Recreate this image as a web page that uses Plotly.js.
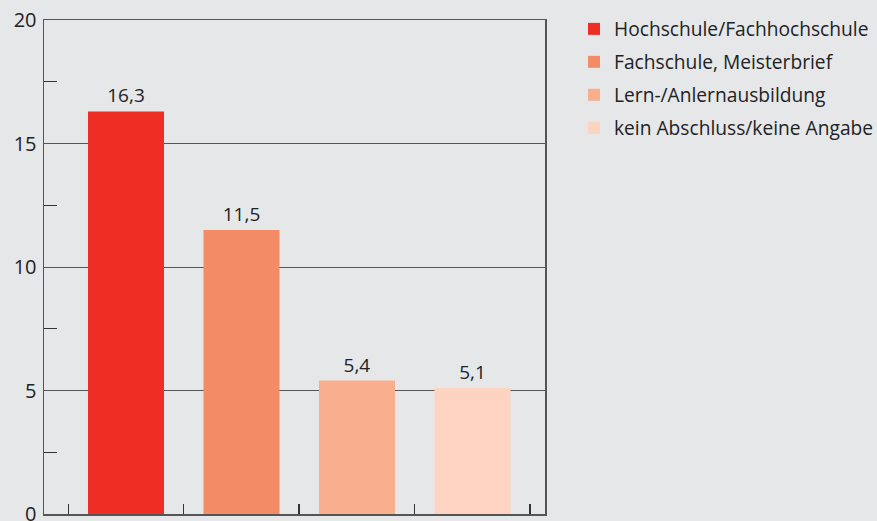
<!DOCTYPE html>
<html>
<head>
<meta charset="utf-8">
<script src="https://cdn.plot.ly/plotly-3.0.1.min.js"></script>
<style>html,body{margin:0;padding:0;background:#e6e7e9;}#chart{width:877px;height:521px;}</style>
</head>
<body>
<div id="chart"></div>
<script>
const categories = ["Hochschule/Fachhochschule", "Fachschule, Meisterbrief", "Lern-/Anlernausbildung", "kein Abschluss/keine Angabe"];
const values = [16.3, 11.5, 5.4, 5.1];
const colors = ["#ee2e24", "#f48b67", "#f9ae8e", "#fdd3c2"];
const yTicks = [0, 5, 10, 15, 20];
const yMinorTicks = [2.5, 7.5, 12.5, 17.5];

const traces = categories.map((c, i) => ({
  type: "bar",
  name: c,
  x: [c],
  y: [values[i]],
  marker: {color: colors[i], line: {width: 0}},
  texttemplate: "%{y:.1f}",
  textposition: "outside",
  cliponaxis: false,
  textfont: {family: "Open Sans", size: 19, color: "#222"},
  legendgroup: "g" + i,
  hoverinfo: "skip"
}));

const layout = {
  width: 877, height: 521,
  paper_bgcolor: "#e6e7e9",
  plot_bgcolor: "#e6e7e9",
  separators: ",.",
  margin: {l: 44, r: 332, t: 20, b: 7, autoexpand: false},
  barmode: "overlay",
  bargap: 0.342,
  showlegend: true,
  legend: {
    xref: "container", yref: "container",
    x: 0.6545, y: 0.981, xanchor: "left", yanchor: "top",
    font: {family: "Open Sans", size: 19.2, color: "#222"},
    traceorder: "grouped",
    tracegroupgap: 5,
    bgcolor: "rgba(0,0,0,0)"
  },
  xaxis: {
    type: "category",
    range: [-0.71, 3.628],
    tickson: "boundaries",
    ticks: "inside",
    ticklen: 10,
    tickcolor: "#333",
    tickwidth: 1.5,
    showticklabels: false,
    showgrid: false,
    showline: true,
    linecolor: "#555",
    linewidth: 1.5,
    mirror: true,
    automargin: false,
    fixedrange: true
  },
  yaxis: {
    range: [0, 20],
    tickvals: yTicks,
    ticktext: yTicks.map(String),
    ticks: "",
    showgrid: true,
    gridcolor: "#555",
    gridwidth: 1,
    showline: true,
    linecolor: "#555",
    linewidth: 1.5,
    mirror: true,
    zeroline: false,
    automargin: false,
    ticklabeloverflow: "allow",
    tickfont: {family: "Open Sans", size: 20, color: "#222"},
    ticklabelstandoff: 2,
    minor: {tickvals: yMinorTicks, ticks: "inside", ticklen: 13, tickcolor: "#333", tickwidth: 1.2, showgrid: false},
    fixedrange: true
  }
};

Plotly.newPlot("chart", traces, layout, {displayModeBar: false, staticPlot: true});
</script>
</body>
</html>
